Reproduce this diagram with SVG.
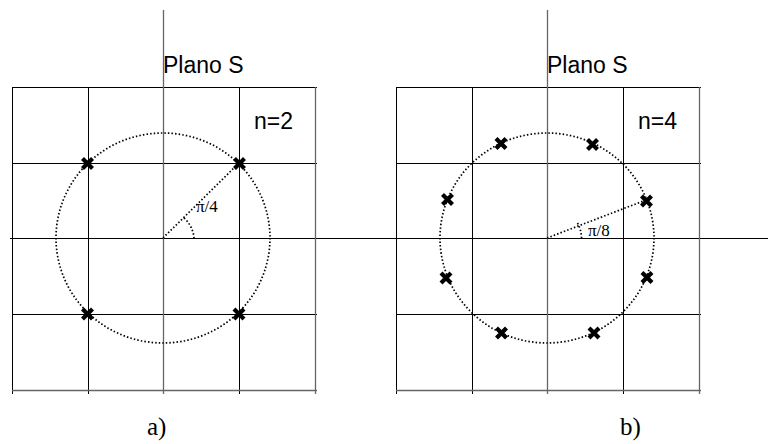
<svg xmlns="http://www.w3.org/2000/svg" width="768" height="444" viewBox="0 0 768 444">
<defs>
<style>
.g{stroke:#000;stroke-width:1;fill:none}
.gg{stroke:#666;stroke-width:1.3;fill:none}
.dot{stroke:#000;stroke-width:1.7;stroke-dasharray:1.5 2.1;fill:none}
.sans{font-family:"Liberation Sans",Arial,sans-serif;font-size:23px;fill:#000}
.ser{font-family:"Liberation Serif","Times New Roman",serif;fill:#000}
.pole{stroke:#000;stroke-width:4.2;fill:none}
</style>
<path id="x" class="pole" d="M-5,-5L5,5M-5,5L5,-5"/>
<g id="grid">
<path class="g" d="M12,87.5H317M12,163.5H317M12,314.5H317M12.5,87V394M88.5,87V394M239.5,87V394"/>
<path class="gg" d="M12,390.5H317M315.5,87V394M163.5,10V394"/>
</g>
</defs>
<rect width="768" height="444" fill="#fff"/>
<g id="axis">
<path class="g" d="M10,238.5H768"/>
</g>
<g id="panel-a">
<use href="#grid"/>
<ellipse class="dot" cx="163" cy="238" rx="107" ry="105"/>
<path class="dot" d="M163,238L239,163"/>
<path class="dot" d="M184,218A30,30 0 0 1 194,238"/>
<text class="ser" x="196" y="212" font-size="17">π/4</text>
<text class="sans" x="163" y="73">Plano S</text>
<text class="sans" x="254" y="129">n=2</text>
<use href="#x" x="87.5" y="163.5"/>
<use href="#x" x="239.5" y="163.5"/>
<use href="#x" x="87.5" y="314"/>
<use href="#x" x="239" y="314"/>
<text class="ser" x="147" y="435" font-size="25">a)</text>
</g>
<g id="panel-b">
<use href="#grid" x="384"/>
<ellipse class="dot" cx="547" cy="238" rx="107" ry="105"/>
<path class="dot" d="M547,238L646,200"/>
<path class="dot" d="M577.5,223A32,32 0 0 1 581.5,238"/>
<text class="ser" x="588" y="236" font-size="17">π/8</text>
<text class="sans" x="547" y="73">Plano S</text>
<text class="sans" x="638" y="129">n=4</text>
<use href="#x" x="501" y="143.5"/>
<use href="#x" x="592.5" y="144.5"/>
<use href="#x" x="447.5" y="199.5"/>
<use href="#x" x="646.5" y="201"/>
<use href="#x" x="446" y="278"/>
<use href="#x" x="647" y="277.5"/>
<use href="#x" x="501.5" y="333"/>
<use href="#x" x="594" y="333"/>
<text class="ser" x="620" y="435" font-size="25">b)</text>
</g>
</svg>
